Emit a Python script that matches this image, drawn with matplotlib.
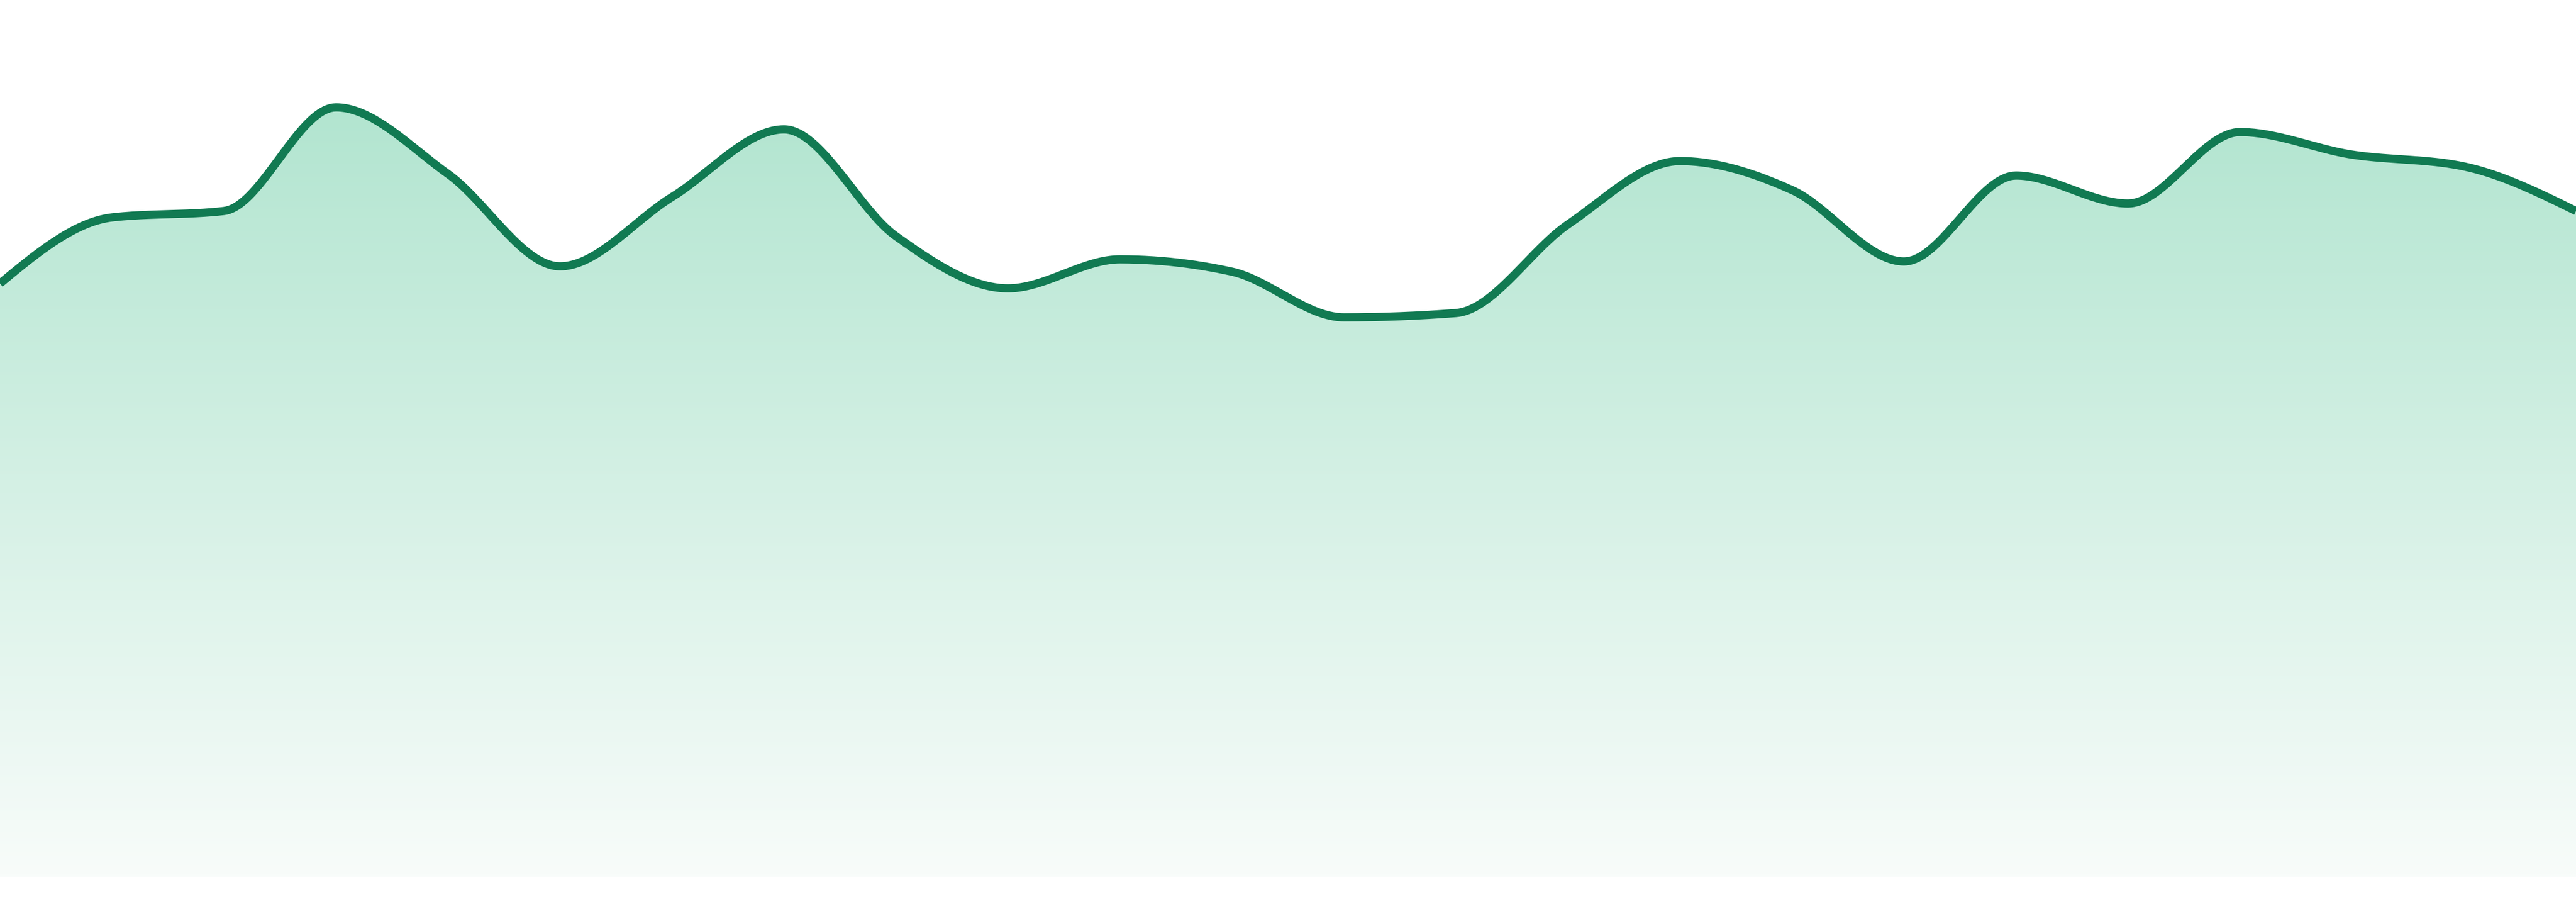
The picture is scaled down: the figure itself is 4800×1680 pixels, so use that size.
import numpy as np
import matplotlib
matplotlib.use('Agg')
import matplotlib.pyplot as plt
from matplotlib.colors import LinearSegmentedColormap
from matplotlib.patches import PathPatch
from matplotlib.path import Path

# series values (24 evenly spaced samples)
steps = list(range(24))
values = [110.5, 122.8, 124.0, 143.3, 130.9, 113.7, 126.6, 139.2,
          119.3, 109.6, 115.0, 112.7, 104.2, 105.0, 121.5, 133.3,
          127.9, 114.6, 130.6, 125.4, 138.7, 134.5, 132.3, 124.0]

line_color = '#117a52'
fill_top = '#b2e5d0'
fill_bottom = '#f8fcfa'


def monotone_slopes(x, y):
    # same slope rule as d3.curveMonotoneX
    x = np.asarray(x, float)
    y = np.asarray(y, float)
    n = len(x)
    h = np.diff(x)
    s = np.diff(y) / h
    t = np.zeros(n)
    for i in range(1, n - 1):
        p = (s[i - 1] * h[i] + s[i] * h[i - 1]) / (h[i - 1] + h[i])
        t[i] = (np.sign(s[i - 1]) + np.sign(s[i])) * min(abs(s[i - 1]), abs(s[i]), 0.5 * abs(p))
    t[0] = (3 * s[0] - t[1]) / 2
    t[-1] = (3 * s[-1] - t[-2]) / 2
    return t


def monotone_curve(x, y, per_seg=40):
    x = np.asarray(x, float)
    y = np.asarray(y, float)
    t = monotone_slopes(x, y)
    xs, ys = [], []
    for i in range(len(x) - 1):
        h = x[i + 1] - x[i]
        u = np.linspace(0, 1, per_seg, endpoint=False)
        h00 = 2 * u**3 - 3 * u**2 + 1
        h10 = u**3 - 2 * u**2 + u
        h01 = -2 * u**3 + 3 * u**2
        h11 = u**3 - u**2
        xs.append(x[i] + u * h)
        ys.append(h00 * y[i] + h10 * h * t[i] + h01 * y[i + 1] + h11 * h * t[i + 1])
    xs.append([x[-1]])
    ys.append([y[-1]])
    return np.concatenate(xs), np.concatenate(ys)


cx, cy = monotone_curve(steps, values)

fig = plt.figure(figsize=(48, 16.8), dpi=100)
ax = fig.add_axes([0, 0, 1, 1])
ax.set_xlim(steps[0], steps[-1])
ax.set_ylim(-4.7, 163.3)
ax.axis('off')

# gradient fill under the curve
verts = np.column_stack([np.r_[cx, cx[-1], cx[0]], np.r_[cy, 0, 0]])
clip = PathPatch(Path(verts), facecolor='none', edgecolor='none')
ax.add_patch(clip)
cmap = LinearSegmentedColormap.from_list('grad', [fill_bottom, fill_top])
grad = np.linspace(0, 1, 256).reshape(-1, 1)
img = ax.imshow(grad, cmap=cmap, aspect='auto', origin='lower',
                extent=[steps[0], steps[-1], 0, max(values)], zorder=1)
img.set_clip_path(clip)

ax.plot(cx, cy, color=line_color, lw=11, solid_capstyle='butt',
        solid_joinstyle='round', zorder=2)

fig.savefig('out.png', dpi=100, facecolor='white')
